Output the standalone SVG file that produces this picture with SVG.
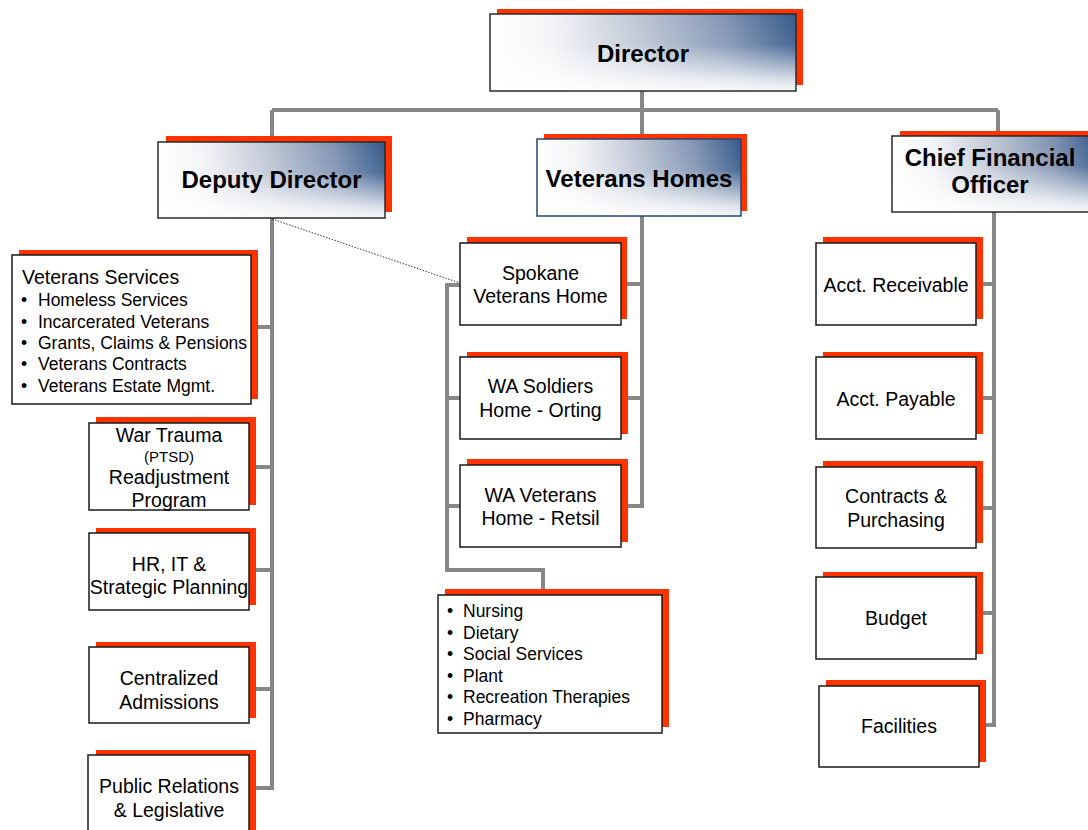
<svg xmlns="http://www.w3.org/2000/svg" width="1088" height="830" viewBox="0 0 1088 830">
<defs>
<linearGradient id="hg" x1="0" y1="0" x2="1" y2="0">
<stop offset="0" stop-color="#ffffff"/>
<stop offset="0.2" stop-color="#f3f4f7"/>
<stop offset="0.5" stop-color="#bcc4d3"/>
<stop offset="0.78" stop-color="#7f92b2"/>
<stop offset="1" stop-color="#35598a"/>
</linearGradient>
<linearGradient id="hf" x1="0" y1="0" x2="0" y2="1">
<stop offset="0" stop-color="#ffffff" stop-opacity="0"/>
<stop offset="0.4" stop-color="#ffffff" stop-opacity="0.1"/>
<stop offset="0.85" stop-color="#ffffff" stop-opacity="0.8"/>
<stop offset="1" stop-color="#ffffff" stop-opacity="0.95"/>
</linearGradient>
</defs>
<style>
.shadow{fill:#ff3300}
.box{fill:#ffffff;stroke:#1a1a1a;stroke-width:1.5}
.hfill{fill:url(#hg)}
.hfade{fill:url(#hf)}
.hedge{fill:none;stroke:#2a2a2a;stroke-width:1.5}
.conn{fill:none;stroke:#878787;stroke-width:4}
.dot{fill:none;stroke:#333333;stroke-width:1;stroke-dasharray:1.5 1.5}
text{font-family:"Liberation Sans",Arial,Helvetica,sans-serif;fill:#000000}
.t{font-size:19.5px;text-anchor:middle}
.s{font-size:15px;text-anchor:middle}
.h{font-size:24px;font-weight:bold;text-anchor:middle}
.b{font-size:17.5px}
.hd{font-size:19.5px}
</style>
<rect width="1088" height="830" fill="#ffffff"/>
<g id="connectors">
<path class="conn" d="M642,91 V110 M272,110 H998 M272,110 V142 M642,110 V139 M998,110 V136"/>
<path class="conn" d="M272,218 V788 H249 M251,327 H272 M249,467 H272 M249,570 H272 M249,689 H272"/>
<path class="conn" d="M642,216 V506 H621 M621,284 H642 M621,398 H642"/>
<path class="conn" d="M460,285 H447 V570 H543 V595 M447,398 H460 M447,506 H460"/>
<path class="conn" d="M994,212 V725 H979 M976,284 H994 M976,398 H994 M976,508 H994 M976,613 H994"/>
<line class="dot" x1="272" y1="219" x2="460" y2="283"/>
</g>
<g id="director">
<rect class="shadow" x="497" y="9" width="306" height="76"/>
<rect class="hfill" x="490" y="14" width="306" height="77"/>
<rect class="hfade" x="490" y="14" width="306" height="77"/>
<rect class="hedge" x="490" y="14" width="306" height="77"/>
<text class="h" x="643" y="62">Director</text>
</g>
<g id="deputy-director">
<rect class="shadow" x="166" y="136" width="226" height="76"/>
<rect class="hfill" x="158" y="142" width="227" height="76"/>
<rect class="hfade" x="158" y="142" width="227" height="76"/>
<rect class="hedge" x="158" y="142" width="227" height="76"/>
<text class="h" x="271.5" y="188">Deputy Director</text>
</g>
<g id="veterans-homes">
<rect class="shadow" x="544" y="134" width="203" height="77"/>
<rect class="hfill" x="537" y="139" width="204" height="77"/>
<rect class="hfade" x="537" y="139" width="204" height="77"/>
<rect class="hedge" x="537" y="139" width="204" height="77" style="stroke:#27466f"/>
<text class="h" x="639" y="187">Veterans Homes</text>
</g>
<g id="cfo">
<rect class="shadow" x="900" y="131" width="200" height="76"/>
<rect class="hfill" x="892" y="136" width="206" height="76"/>
<rect class="hfade" x="892" y="136" width="206" height="76"/>
<rect class="hedge" x="892" y="136" width="206" height="76"/>
<text class="h" x="990" y="166">Chief Financial</text>
<text class="h" x="990" y="193">Officer</text>
</g>
<g id="veterans-services">
<rect class="shadow" x="19" y="250" width="239" height="149"/>
<rect class="box" x="12" y="255" width="239" height="149"/>
<text class="hd" x="22" y="284">Veterans Services</text>
<text class="b" x="21" y="306">•</text><text class="b" x="38" y="306">Homeless Services</text>
<text class="b" x="21" y="328">•</text><text class="b" x="38" y="328">Incarcerated Veterans</text>
<text class="b" x="21" y="349">•</text><text class="b" x="38" y="349">Grants, Claims &amp; Pensions</text>
<text class="b" x="21" y="370">•</text><text class="b" x="38" y="370">Veterans Contracts</text>
<text class="b" x="21" y="392">•</text><text class="b" x="38" y="392">Veterans Estate Mgmt.</text>
</g>
<g id="war-trauma">
<rect class="shadow" x="96" y="417" width="160" height="88"/>
<rect class="box" x="89" y="423" width="160" height="87"/>
<text class="t" x="169" y="442">War Trauma</text>
<text class="s" x="169" y="462">(PTSD)</text>
<text class="t" x="169" y="484">Readjustment</text>
<text class="t" x="169" y="507">Program</text>
</g>
<g id="hr-it">
<rect class="shadow" x="96" y="528" width="160" height="77"/>
<rect class="box" x="89" y="533" width="160" height="77"/>
<text class="t" x="169" y="571">HR, IT &amp;</text>
<text class="t" x="169" y="594">Strategic Planning</text>
</g>
<g id="centralized-admissions">
<rect class="shadow" x="96" y="642" width="160" height="76"/>
<rect class="box" x="89" y="647" width="160" height="76"/>
<text class="t" x="169" y="685">Centralized</text>
<text class="t" x="169" y="709">Admissions</text>
</g>
<g id="public-relations">
<rect class="shadow" x="96" y="750" width="160" height="90"/>
<rect class="box" x="88" y="755" width="161" height="90"/>
<text class="t" x="169" y="793">Public Relations</text>
<text class="t" x="169" y="817">&amp; Legislative</text>
</g>
<g id="spokane">
<rect class="shadow" x="467" y="237" width="160" height="82"/>
<rect class="box" x="460" y="243" width="161" height="82"/>
<text class="t" x="540.5" y="280">Spokane</text>
<text class="t" x="540.5" y="303">Veterans Home</text>
</g>
<g id="orting">
<rect class="shadow" x="467" y="352" width="161" height="82"/>
<rect class="box" x="460" y="357" width="161" height="82"/>
<text class="t" x="540.5" y="393">WA Soldiers</text>
<text class="t" x="540.5" y="417">Home - Orting</text>
</g>
<g id="retsil">
<rect class="shadow" x="467" y="459" width="161" height="83"/>
<rect class="box" x="460" y="465" width="161" height="82"/>
<text class="t" x="540.5" y="502">WA Veterans</text>
<text class="t" x="540.5" y="525">Home - Retsil</text>
</g>
<g id="home-services">
<rect class="shadow" x="445" y="589" width="224" height="138"/>
<rect class="box" x="438" y="595" width="224" height="138"/>
<text class="b" x="447" y="617">•</text><text class="b" x="463" y="617">Nursing</text>
<text class="b" x="447" y="639">•</text><text class="b" x="463" y="639">Dietary</text>
<text class="b" x="447" y="660">•</text><text class="b" x="463" y="660">Social Services</text>
<text class="b" x="447" y="682">•</text><text class="b" x="463" y="682">Plant</text>
<text class="b" x="447" y="703">•</text><text class="b" x="463" y="703">Recreation Therapies</text>
<text class="b" x="447" y="725">•</text><text class="b" x="463" y="725">Pharmacy</text>
</g>
<g id="acct-receivable">
<rect class="shadow" x="823" y="237" width="160" height="82"/>
<rect class="box" x="816" y="243" width="160" height="82"/>
<text class="t" x="896" y="292">Acct. Receivable</text>
</g>
<g id="acct-payable">
<rect class="shadow" x="823" y="352" width="160" height="82"/>
<rect class="box" x="816" y="357" width="160" height="82"/>
<text class="t" x="896" y="406">Acct. Payable</text>
</g>
<g id="contracts">
<rect class="shadow" x="823" y="461" width="160" height="82"/>
<rect class="box" x="816" y="467" width="160" height="81"/>
<text class="t" x="896" y="503">Contracts &amp;</text>
<text class="t" x="896" y="527">Purchasing</text>
</g>
<g id="budget">
<rect class="shadow" x="823" y="572" width="160" height="82"/>
<rect class="box" x="816" y="577" width="160" height="82"/>
<text class="t" x="896" y="625">Budget</text>
</g>
<g id="facilities">
<rect class="shadow" x="826" y="680" width="160" height="82"/>
<rect class="box" x="819" y="686" width="160" height="81"/>
<text class="t" x="899" y="733">Facilities</text>
</g>
</svg>
